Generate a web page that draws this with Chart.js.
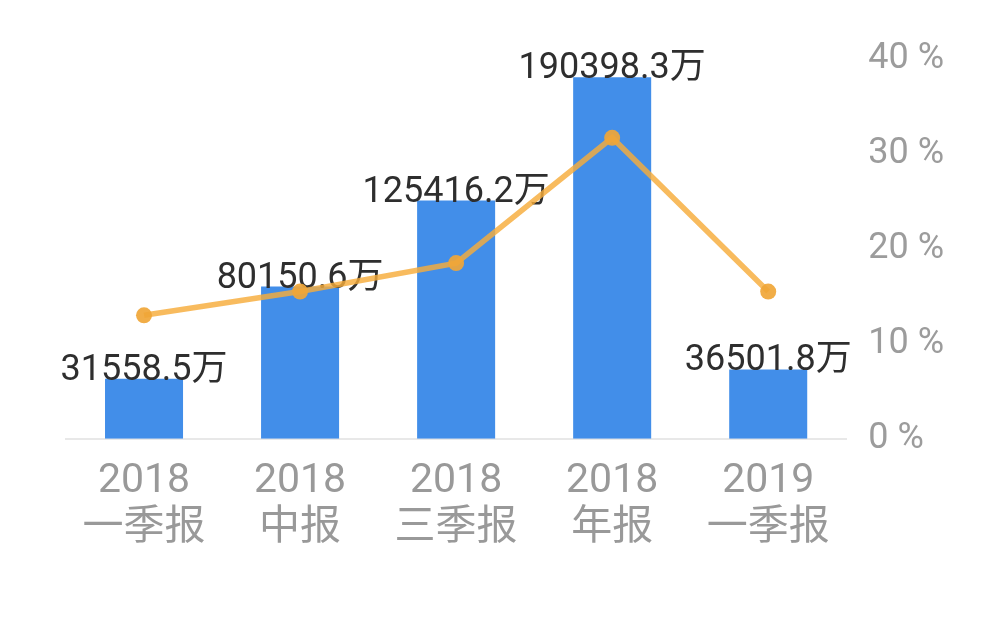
<!DOCTYPE html>
<html>
<head>
<meta charset="utf-8">
<script src="https://cdn.jsdelivr.net/npm/chart.js@4/dist/chart.umd.min.js"></script>
<style>
html,body{margin:0;padding:0;background:#fff;}
#wrap{width:1000px;height:635px;position:relative;}
</style>
</head>
<body>
<div id="wrap"><canvas id="c"></canvas></div>
<script>
const years = ['2018', '2018', '2018', '2018', '2019'];
const periods = ['一季报', '中报', '三季报', '年报', '一季报'];
const revenue = [31558.5, 80150.6, 125416.2, 190398.3, 36501.8];
const revenueLabels = ['31558.5万', '80150.6万', '125416.2万', '190398.3万', '36501.8万'];
const growth = [13.0, 15.5, 18.5, 31.7, 15.5];
const pctTicks = [0, 10, 20, 30, 40];

const categories = years.map((y, i) => [y, periods[i]]);
const FONT = "Roboto, 'Noto Sans CJK SC', sans-serif";

const barLabelPlugin = {
  id: 'barLabels',
  afterDatasetDraw(chart, args) {
    if (args.index !== 0) return;
    const ctx = chart.ctx;
    const meta = chart.getDatasetMeta(0);
    ctx.save();
    ctx.font = "36px " + FONT;
    ctx.fillStyle = '#2e2e2e';
    ctx.textAlign = 'center';
    ctx.textBaseline = 'alphabetic';
    meta.data.forEach((bar, i) => {
      ctx.fillText(revenueLabels[i], bar.x, bar.y + 1);
    });
    ctx.restore();
  }
};

new Chart(document.getElementById('c'), {
  data: {
    labels: categories,
    datasets: [
      {
        type: 'bar',
        data: revenue,
        backgroundColor: '#428ee9',
        yAxisID: 'y',
        order: 1,
        barPercentage: 0.5,
        categoryPercentage: 1.0
      },
      {
        type: 'line',
        data: growth,
        borderColor: 'rgba(246,172,58,0.82)',
        backgroundColor: 'rgba(240,166,55,0.92)',
        borderWidth: 5.5,
        pointRadius: 8,
        pointHoverRadius: 8,
        pointBorderWidth: 0,
        tension: 0,
        yAxisID: 'y1',
        order: 0
      }
    ]
  },
  options: {
    responsive: true,
    maintainAspectRatio: false,
    animation: false,
    layout: { padding: { left: 66, right: 34, top: 59, bottom: 64 } },
    plugins: { legend: { display: false }, tooltip: { enabled: false } },
    scales: {
      x: {
        grid: { display: false, drawTicks: false },
        border: { display: true, color: '#e8e8e8', width: 2 },
        ticks: {
          color: '#999999',
          font: { size: 41, family: FONT, lineHeight: 1.15 },
          padding: 19,
          maxRotation: 0,
          autoSkip: false
        }
      },
      y: {
        display: false,
        min: 0,
        max: 200000
      },
      y1: {
        position: 'right',
        min: 0,
        max: 40,
        grid: { display: false, drawTicks: false },
        border: { display: false },
        afterBuildTicks(scale) { scale.ticks = pctTicks.map(v => ({ value: v })); },
        ticks: {
          color: '#9c9c9c',
          padding: 22,
          font: { size: 36, family: FONT },
          callback: v => v + ' %'
        }
      }
    }
  },
  plugins: [barLabelPlugin]
});
</script>
</body>
</html>
